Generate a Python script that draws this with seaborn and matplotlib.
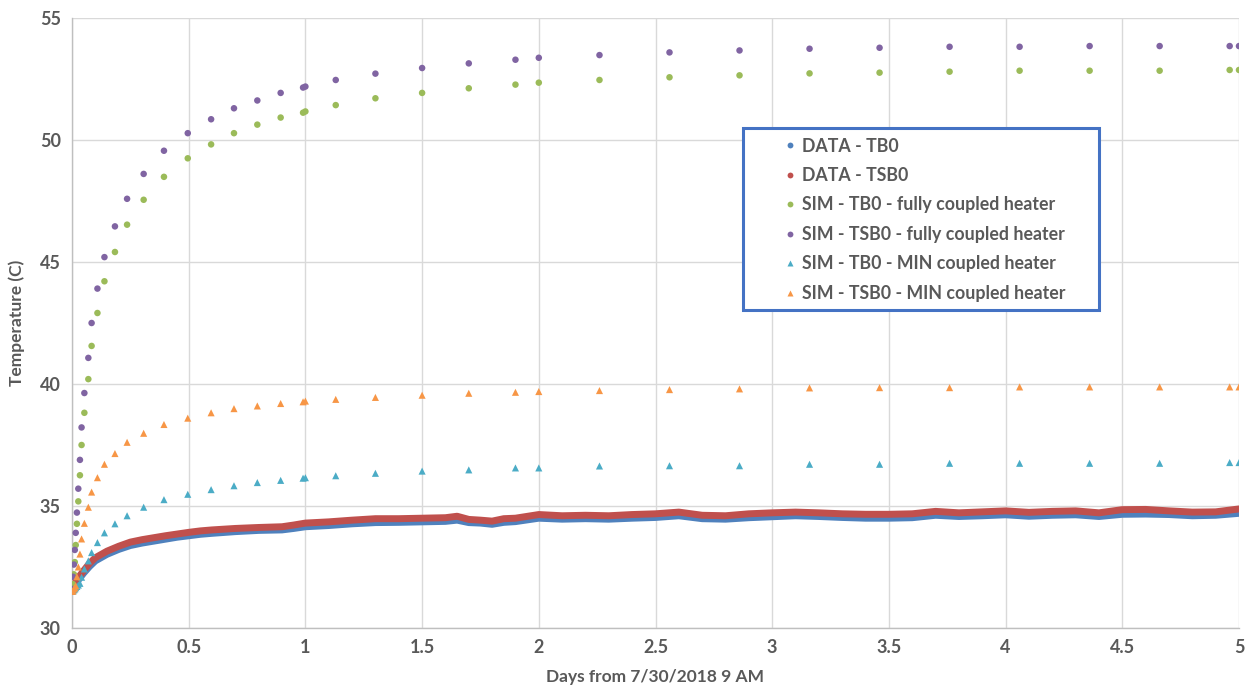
import matplotlib
matplotlib.use("Agg")
import matplotlib.pyplot as plt
from matplotlib.lines import Line2D
from matplotlib.patches import Rectangle
import seaborn as sns
import pandas as pd

# ---------------- data ----------------
sim_days = [0, 0.004, 0.008, 0.012, 0.016, 0.021, 0.027, 0.034, 0.041, 0.053,
            0.07, 0.084, 0.109, 0.139, 0.184, 0.236, 0.307, 0.394, 0.496, 0.596,
            0.694, 0.794, 0.894, 0.99, 1.0, 1.13, 1.3, 1.5, 1.7, 1.9,
            2.0, 2.26, 2.56, 2.86, 3.16, 3.46, 3.76, 4.06, 4.36, 4.66,
            4.96, 5.0]

sim_tb0_full = [31.5, 31.8, 32.2, 32.7, 33.4, 34.27, 35.19, 36.26, 37.5, 38.82,
                40.2, 41.56, 42.91, 44.21, 45.41, 46.53, 47.55, 48.49, 49.25, 49.82,
                50.28, 50.63, 50.92, 51.12, 51.17, 51.43, 51.71, 51.93, 52.12, 52.27,
                52.35, 52.46, 52.57, 52.65, 52.73, 52.76, 52.80, 52.84, 52.84, 52.84,
                52.87, 52.87]

sim_tsb0_full = [31.6, 32.1, 32.6, 33.2, 33.9, 34.73, 35.71, 36.89, 38.22, 39.63,
                 41.07, 42.5, 43.91, 45.2, 46.46, 47.59, 48.61, 49.56, 50.28, 50.85,
                 51.30, 51.62, 51.93, 52.15, 52.19, 52.46, 52.72, 52.95, 53.14, 53.29,
                 53.37, 53.48, 53.59, 53.67, 53.74, 53.78, 53.82, 53.82, 53.85, 53.85,
                 53.85, 53.85]

sim_tb0_min = [31.5, 31.52, 31.56, 31.6, 31.65, 31.7, 31.76, 31.83, 32.08, 32.42,
               32.75, 33.09, 33.5, 33.9, 34.27, 34.6, 34.95, 35.26, 35.48, 35.67,
               35.83, 35.96, 36.05, 36.14, 36.16, 36.24, 36.34, 36.43, 36.48, 36.56,
               36.56, 36.64, 36.65, 36.65, 36.71, 36.71, 36.75, 36.75, 36.75, 36.75,
               36.78, 36.78]

sim_tsb0_min = [31.5, 31.52, 31.6, 31.65, 31.73, 32.1, 32.5, 33.03, 33.65, 34.29,
                34.95, 35.57, 36.16, 36.71, 37.15, 37.61, 37.98, 38.34, 38.6, 38.82,
                38.99, 39.1, 39.2, 39.27, 39.3, 39.37, 39.45, 39.54, 39.62, 39.66,
                39.69, 39.73, 39.77, 39.8, 39.84, 39.85, 39.85, 39.88, 39.88, 39.88,
                39.88, 39.88]

data_days = [0, 0.01, 0.02, 0.03, 0.05, 0.075, 0.1, 0.15, 0.2, 0.25,
             0.3, 0.35, 0.4, 0.45, 0.5, 0.55, 0.6, 0.7, 0.8, 0.9,
             0.95, 1.0, 1.1, 1.2, 1.3, 1.4, 1.5, 1.6, 1.65, 1.7,
             1.75, 1.8, 1.85, 1.9, 2.0, 2.1, 2.2, 2.3, 2.4, 2.5,
             2.6, 2.7, 2.8, 2.9, 3.0, 3.1, 3.2, 3.3, 3.4, 3.5,
             3.6, 3.7, 3.8, 3.9, 4.0, 4.1, 4.2, 4.3, 4.4, 4.5,
             4.6, 4.7, 4.8, 4.9, 4.95, 5.0]

data_tb0 = [31.5, 31.68, 31.85, 32.0, 32.25, 32.52, 32.75, 33.02, 33.22, 33.38,
            33.48, 33.56, 33.64, 33.72, 33.78, 33.84, 33.88, 33.95, 34.0, 34.02,
            34.08, 34.15, 34.2, 34.27, 34.32, 34.33, 34.35, 34.37, 34.42, 34.32,
            34.3, 34.25, 34.33, 34.36, 34.5, 34.46, 34.48, 34.46, 34.5, 34.53,
            34.6, 34.48, 34.46, 34.52, 34.56, 34.6, 34.57, 34.53, 34.5, 34.5,
            34.52, 34.62, 34.57, 34.6, 34.64, 34.58, 34.62, 34.64, 34.57, 34.66,
            34.67, 34.65, 34.6, 34.62, 34.66, 34.7]

data_tsb0 = [31.56, 31.75, 31.95, 32.1, 32.35, 32.65, 32.88, 33.15, 33.35, 33.52,
             33.62, 33.7, 33.78, 33.85, 33.92, 33.98, 34.02, 34.08, 34.12, 34.15,
             34.22, 34.3, 34.35, 34.42, 34.48, 34.48, 34.5, 34.52, 34.58, 34.45,
             34.42, 34.38, 34.48, 34.5, 34.65, 34.6, 34.62, 34.6, 34.65, 34.68,
             34.75, 34.62, 34.6, 34.68, 34.72, 34.75, 34.72, 34.68, 34.66, 34.66,
             34.68, 34.78, 34.72, 34.76, 34.8, 34.74, 34.78, 34.8, 34.72, 34.85,
             34.86, 34.8, 34.75, 34.76, 34.82, 34.88]

labels = ["DATA - TB0", "DATA - TSB0",
          "SIM - TB0 - fully coupled heater", "SIM - TSB0 - fully coupled heater",
          "SIM - TB0 - MIN coupled heater", "SIM - TSB0 - MIN coupled heater"]
colors = ["#4F81BD", "#C0504D", "#9BBB59", "#8064A2", "#4BACC6", "#F79646"]
x_ticks = [0, 0.5, 1, 1.5, 2, 2.5, 3, 3.5, 4, 4.5, 5]
x_tick_labels = ["0", "0.5", "1", "1.5", "2", "2.5", "3", "3.5", "4", "4.5", "5"]
y_ticks = [30, 35, 40, 45, 50, 55]

# ---------------- figure ----------------
sns.set_theme(style="whitegrid")
plt.rcParams["font.family"] = ["Lato", "DejaVu Sans"]
GRAY = "#595959"

fig = plt.figure(figsize=(12.53, 6.92), dpi=100)
ax = fig.add_axes([72 / 1253, 64 / 692, (1239 - 72) / 1253, (628 - 18) / 692])

data_df = pd.DataFrame({"days": data_days, "tb0": data_tb0, "tsb0": data_tsb0})
sns.lineplot(data=data_df, x="days", y="tb0", ax=ax, color=colors[0], lw=5.0,
             solid_capstyle="round", zorder=3, estimator=None, sort=False)
sns.lineplot(data=data_df, x="days", y="tsb0", ax=ax, color=colors[1], lw=5.0,
             solid_capstyle="round", zorder=3, estimator=None, sort=False)

sim_df = pd.DataFrame({"days": sim_days, "g": sim_tb0_full, "p": sim_tsb0_full,
                       "c": sim_tb0_min, "o": sim_tsb0_min})
sns.scatterplot(data=sim_df, x="days", y="g", ax=ax, color=colors[2], marker="o",
                s=22, edgecolor="none", zorder=4)
sns.scatterplot(data=sim_df, x="days", y="p", ax=ax, color=colors[3], marker="o",
                s=22, edgecolor="none", zorder=4)
sns.scatterplot(data=sim_df, x="days", y="c", ax=ax, color=colors[4], marker="^",
                s=26, edgecolor="none", zorder=4)
sns.scatterplot(data=sim_df, x="days", y="o", ax=ax, color=colors[5], marker="^",
                s=26, edgecolor="none", zorder=4)

ax.set_xlim(0, 5)
ax.set_ylim(30, 55)
ax.set_xticks(x_ticks)
ax.set_xticklabels(x_tick_labels)
ax.set_yticks(y_ticks)
ax.grid(True, color="#D9D9D9", lw=1.0)
ax.set_axisbelow(True)
ax.set_facecolor("white")
for s in ["top", "right"]:
    ax.spines[s].set_visible(False)
for s in ["left", "bottom"]:
    ax.spines[s].set_visible(True)
    ax.spines[s].set_color("#BFBFBF")
    ax.spines[s].set_linewidth(1.0)
ax.tick_params(axis="both", length=0, labelsize=13, colors=GRAY, pad=8)
for lab in ax.get_xticklabels() + ax.get_yticklabels():
    lab.set_fontweight("bold")

ax.set_xlabel("Days from 7/30/2018 9 AM", fontsize=12.5, fontweight="bold",
              color=GRAY, labelpad=9)
ax.set_ylabel("Temperature (C)", fontsize=12.5, fontweight="bold",
              color=GRAY, labelpad=11)

# legend box
box = Rectangle(((743 - 72) / 1167, (628 - 310) / 610), (1099 - 743) / 1167,
                (310 - 128) / 610, transform=ax.transAxes, facecolor="white",
                edgecolor="#4472C4", lw=2.2, zorder=6, clip_on=False)
ax.add_patch(box)
handles = [
    Line2D([], [], ls="", marker="o", ms=4.2, color=colors[0], mec="none"),
    Line2D([], [], ls="", marker="o", ms=4.2, color=colors[1], mec="none"),
    Line2D([], [], ls="", marker="o", ms=4.2, color=colors[2], mec="none"),
    Line2D([], [], ls="", marker="o", ms=4.2, color=colors[3], mec="none"),
    Line2D([], [], ls="", marker="^", ms=4.6, color=colors[4], mec="none"),
    Line2D([], [], ls="", marker="^", ms=4.6, color=colors[5], mec="none"),
]
leg = ax.legend(handles, labels, loc="upper left",
                bbox_to_anchor=((779 - 72) / 1167, (628 - 134) / 610),
                frameon=False, fontsize=12.8, handlelength=0.8,
                handletextpad=0.3, labelspacing=0.7, borderpad=0.2,
                borderaxespad=0)
leg.set_zorder(7)
for t in leg.get_texts():
    t.set_color(GRAY)
    t.set_fontweight("bold")

fig.savefig("out.png", dpi=100, facecolor="white")
